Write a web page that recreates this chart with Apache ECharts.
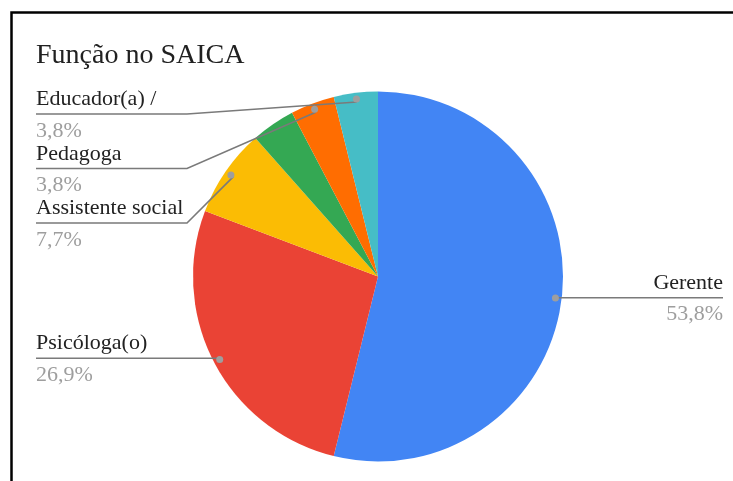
<!DOCTYPE html>
<html>
<head>
<meta charset="utf-8">
<script src="https://cdn.jsdelivr.net/npm/echarts@6/dist/echarts.min.js"></script>
<style>
  html, body { margin: 0; padding: 0; background: #fff; }
  #chart { width: 733px; height: 481px; }
</style>
</head>
<body>
<div id="chart"></div>
<script>
// Respondents by role at SAICA
const chartTitle = 'Função no SAICA';
const categories = ['Gerente', 'Psicóloga(o)', 'Assistente social', 'Outros', 'Pedagoga', 'Educador(a) /'];
const counts = [14, 7, 2, 1, 1, 1];
const labelled = [true, true, true, false, true, true];

const total = counts.reduce((a, b) => a + b, 0);
const pct = v => (v / total * 100).toFixed(1).replace('.', ',') + '%';

// Layout constants
const CENTER = [378, 276.5];
const RADIUS = 185;
const DOT_R = 0.95;            // leader dots sit just inside the rim
const LEFT_X = 36, RIGHT_X = 723, ELBOW_X = 187;
const STACK_TOP = 114, STACK_GAP = 54.5;
const NAME_LH = 29, VALUE_LH = 34;
const FONT = "'Liberation Serif', serif";
const COLORS = ['#4285F4', '#EA4335', '#FBBC04', '#34A853', '#FF6D01', '#46BDC6'];
const GUIDE = '#7a7a7a';

const isSmall = i => counts[i] / total < 0.2;

function placeLabel(p) {
  const i = p.dataIndex;
  const e = p.labelLinePoints && p.labelLinePoints[0];
  if (!e) return {};
  const dot = [CENTER[0] + (e[0] - CENTER[0]) * DOT_R, CENTER[1] + (e[1] - CENTER[1]) * DOT_R];
  let x, y, align, pts;
  if (dot[0] > CENTER[0]) {
    y = dot[1]; x = RIGHT_X; align = 'right';
    pts = [dot, [RIGHT_X, y]];
  } else if (!isSmall(i)) {
    y = dot[1]; x = LEFT_X; align = 'left';
    pts = [dot, [LEFT_X, y]];
  } else {
    // small slices on the left stack downward from the top row
    let rank = 0;
    for (let j = i + 1; j < counts.length; j++) if (labelled[j] && isSmall(j)) rank++;
    y = STACK_TOP + rank * STACK_GAP; x = LEFT_X; align = 'left';
    pts = [dot, [ELBOW_X, y], [LEFT_X, y]];
  }
  return { x: x, y: y - NAME_LH, align: align, verticalAlign: 'top', labelLinePoints: pts, hideOverlap: false };
}

const pieBase = {
  type: 'pie',
  center: CENTER,
  startAngle: 90,
  clockwise: true,
  emphasis: { disabled: true }
};

const chart = echarts.init(document.getElementById('chart'), null, { renderer: 'canvas' });
chart.setOption({
  animation: false,
  backgroundColor: '#fff',
  color: COLORS,
  title: {
    text: chartTitle, left: 36, top: 42, padding: 0,
    textStyle: { fontFamily: FONT, fontSize: 28, fontWeight: 'normal', color: '#212121' }
  },
  graphic: [{
    type: 'rect', silent: true, z: 100,
    shape: { x: 11.5, y: 12.5, width: 1000, height: 1000 },
    style: { fill: 'none', stroke: '#000', lineWidth: 2.5 }
  }],
  series: [
    Object.assign({}, pieBase, {
      // coloured slices
      radius: RADIUS,
      z: 1,
      label: { show: false },
      labelLine: { show: false },
      data: categories.map((name, i) => ({ name: name, value: counts[i] }))
    }),
    Object.assign({}, pieBase, {
      // labels with leader lines, drawn above the slices
      radius: RADIUS,
      z: 2,
      silent: true,
      avoidLabelOverlap: false,
      itemStyle: { color: 'transparent' },
      data: categories.map((name, i) => ({
        name: name, value: counts[i],
        label: { show: labelled[i] },
        labelLine: { show: labelled[i] }
      })),
      label: {
        show: true,
        position: 'outside',
        formatter: p => '{n|' + p.name + '}\n{v|' + pct(p.value) + '}',
        rich: {
          n: { fontFamily: FONT, fontSize: 22, color: '#222', lineHeight: NAME_LH },
          v: { fontFamily: FONT, fontSize: 22, color: '#9e9e9e', lineHeight: VALUE_LH }
        }
      },
      labelLine: { show: true, length: 10, length2: 10, lineStyle: { color: GUIDE, width: 1.6 } },
      labelLayout: placeLabel
    }),
    Object.assign({}, pieBase, {
      // leader-line start dots
      radius: [RADIUS * DOT_R - 5, RADIUS * DOT_R + 5],
      z: 3,
      silent: true,
      itemStyle: { color: 'transparent' },
      labelLine: { show: false },
      label: {
        show: true, position: 'inside',
        formatter: '{d| }',
        rich: { d: { width: 7, height: 7, borderRadius: 3.5, backgroundColor: '#9e9e9e' } }
      },
      data: categories.map((name, i) => ({ name: name, value: counts[i], label: { show: labelled[i] } }))
    })
  ]
});
</script>
</body>
</html>
